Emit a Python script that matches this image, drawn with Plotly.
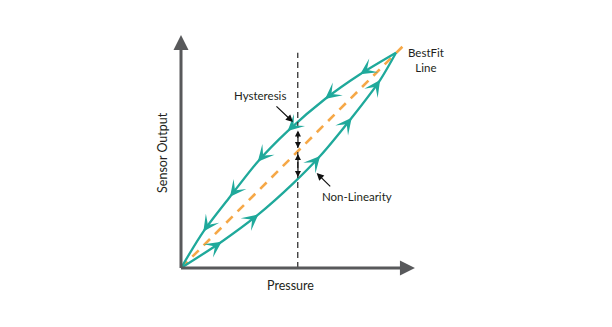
import plotly.graph_objects as go
import numpy as np

# ---- data (arbitrary units: pressure 0..100, output 0..100) ----
upper_x = [0, 10.4, 22.8, 35.7, 49.6, 67.0, 83.3, 100]
upper_y = [0, 16.9, 33.1, 49.4, 63.6, 78.5, 90.0, 100]
lower_x = [0, 18.9, 36.0, 52.2, 64.7, 79.4, 92.6, 100]
lower_y = [0, 12.2, 24.9, 39.3, 52.0, 69.8, 87.3, 100]
fit_x = [0, 104.7]
fit_y = [0, 104.5]
probe_x = 54.3
probe_y = [0, 100]

# arrow markers along the loop (index into curve points)
upper_arrow_idx = [1, 2, 3, 4, 5, 6]   # pointing down-left
lower_arrow_idx = [1, 2, 4, 5, 6]      # pointing up-right

labels = {"Hysteresis": (36.7, 79.9), "Non-Linearity": (82.0, 33.1),
          "BestFit<br>Line": (114.0, 96.8)}

TEAL = "#1fa99b"
ORANGE = "#f6a847"
AXIS = "#58595b"
TXT = "#231f20"
FONT = "Lato"

# pixel scale (px per unit)
SX, SY = 2.15, 2.153

fig = go.Figure()
fig.add_trace(go.Scatter(x=fit_x, y=fit_y, mode="lines",
                         line=dict(color=ORANGE, width=2.6, dash="9px,7px"),
                         hoverinfo="skip"))
fig.add_trace(go.Scatter(x=upper_x, y=upper_y, mode="lines",
                         line=dict(color=TEAL, width=2.3, shape="spline", smoothing=0.8),
                         hoverinfo="skip"))
fig.add_trace(go.Scatter(x=lower_x, y=lower_y, mode="lines",
                         line=dict(color=TEAL, width=2.3, shape="spline", smoothing=0.8),
                         hoverinfo="skip"))
fig.add_trace(go.Scatter(x=[probe_x, probe_x], y=probe_y, mode="lines",
                         line=dict(color="#333333", width=1.3, dash="6px,4px"),
                         hoverinfo="skip"))

ann = []

def dirvec(xs, ys, i):
    dx = (xs[i + 1] - xs[i - 1]) * SX
    dy = (ys[i + 1] - ys[i - 1]) * SY
    n = np.hypot(dx, dy)
    return dx / n, dy / n

L = 9
for i in upper_arrow_idx:
    ux, uy = dirvec(upper_x, upper_y, i)
    ann.append(dict(x=upper_x[i], y=upper_y[i], ax=ux * L, ay=-uy * L,
                    xref="x", yref="y", showarrow=True, arrowhead=3,
                    arrowsize=1.35, arrowwidth=2, arrowcolor=TEAL, text=""))
for i in lower_arrow_idx:
    ux, uy = dirvec(lower_x, lower_y, i)
    ann.append(dict(x=lower_x[i], y=lower_y[i], ax=-ux * L, ay=uy * L,
                    xref="x", yref="y", showarrow=True, arrowhead=3,
                    arrowsize=1.35, arrowwidth=2, arrowcolor=TEAL, text=""))

# axes with arrowheads
ann.append(dict(x=108.8, y=0, ax=-0.7, ay=0, xref="x", yref="y", axref="x", ayref="y",
                showarrow=True, arrowhead=2, arrowsize=1.0, arrowwidth=3,
                arrowcolor=AXIS, text=""))
ann.append(dict(x=0, y=108.2, ax=0, ay=-0.7, xref="x", yref="y", axref="x", ayref="y",
                showarrow=True, arrowhead=2, arrowsize=1.0, arrowwidth=3,
                arrowcolor=AXIS, text=""))

# double arrows on probe line
for (y0, y1) in [(64.6, 55.7), (53.7, 42.3)]:
    ann.append(dict(x=54.4, y=y1, ax=54.4, ay=y0, xref="x", yref="y", axref="x", ayref="y",
                    showarrow=True, arrowhead=2, startarrowhead=2, arrowside="end+start",
                    arrowsize=1.0, startarrowsize=1.0, arrowwidth=1.2, arrowcolor="#111111",
                    text=""))

# pointer arrows
ann.append(dict(x=52.1, y=67.8, ax=43.7, ay=75.7, xref="x", yref="y", axref="x", ayref="y",
                showarrow=True, arrowhead=2, arrowsize=1.2, arrowwidth=1.2,
                arrowcolor="#111111", text=""))
ann.append(dict(x=63.1, y=44.1, ax=70.1, ay=37.2, xref="x", yref="y", axref="x", ayref="y",
                showarrow=True, arrowhead=2, arrowsize=1.2, arrowwidth=1.2,
                arrowcolor="#111111", text=""))

for t, (x, y) in labels.items():
    ann.append(dict(x=x, y=y, xref="x", yref="y", text=t, showarrow=False,
                    font=dict(family=FONT, size=11.5, color=TXT), align="center"))

ann.append(dict(x=51.0, y=-7.9, xref="x", yref="y", text="Pressure", showarrow=False,
                font=dict(family=FONT, size=12.5, color=TXT)))
ann.append(dict(x=-8.4, y=53.9, xref="x", yref="y", text="Sensor Output", showarrow=False,
                textangle=-90, font=dict(family=FONT, size=12.5, color=TXT)))

fig.update_layout(
    width=612, height=327, margin=dict(l=0, r=0, t=0, b=0),
    paper_bgcolor="white", plot_bgcolor="white", showlegend=False,
    xaxis=dict(range=[-181 / SX, (612 - 181) / SX], visible=False, fixedrange=True),
    yaxis=dict(range=[-(327 - 268) / SY, 268 / SY], visible=False, fixedrange=True),
    annotations=ann,
)
fig.write_html("out.html")
